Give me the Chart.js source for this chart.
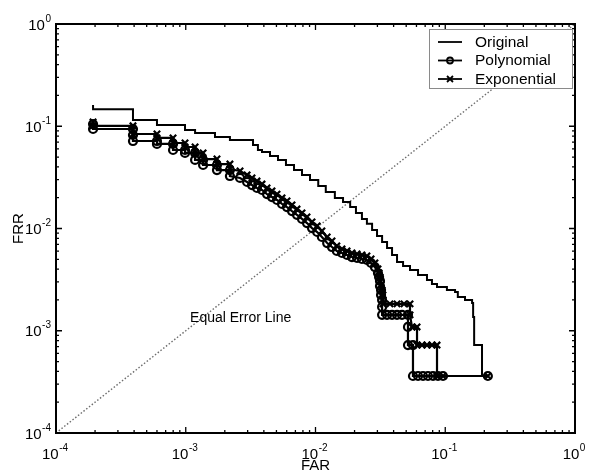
<!DOCTYPE html>
<html>
<head>
<meta charset="utf-8">
<script src="https://cdn.jsdelivr.net/npm/chart.js@4.4.0/dist/chart.umd.min.js"></script>
<style>
  html, body { margin: 0; padding: 0; background: #fff; }
  #wrap { width: 589px; height: 470px; }
</style>
</head>
<body>
<div id="wrap"><canvas id="roc" width="589" height="470"></canvas></div>
<script>
const seriesNames = ['Original', 'Polynomial', 'Exponential'];

// FAR / FRR
const origFar = [1.93e-4, 1.93e-4, 3.92e-4, 6.0e-4, 9.87e-4, 1.18e-3, 1.68e-3, 2.19e-3, 3.30e-3, 3.60e-3,
  3.87e-3, 4.46e-3, 5.14e-3, 5.92e-3, 6.83e-3, 7.87e-3, 9.07e-3, 1.05e-2, 1.20e-2, 1.41e-2,
  1.63e-2, 1.85e-2, 2.05e-2, 2.28e-2, 2.49e-2, 2.73e-2, 2.98e-2, 3.26e-2, 3.56e-2, 3.89e-2,
  4.25e-2, 4.73e-2, 5.35e-2, 6.17e-2, 7.23e-2, 7.90e-2, 8.64e-2, 0.103, 0.119, 0.125,
  0.142, 0.161, 0.164, 0.167, 0.192, 0.213];
const origFrr = [0.161, 0.147, 0.115, 0.103, 0.0919, 0.0859, 0.0785, 0.0734, 0.0656, 0.0586,
  0.0560, 0.0512, 0.0468, 0.0418, 0.0373, 0.0334, 0.0298, 0.0260, 0.0228, 0.0199,
  0.0182, 0.0162, 0.0142, 0.0124, 0.0111, 0.00967, 0.00845, 0.00738, 0.00645, 0.00551,
  0.00470, 0.00430, 0.00393, 0.00351, 0.00314, 0.00287, 0.00268, 0.00250, 0.00239, 0.00214,
  0.00200, 0.00187, 0.00136, 7.25e-4, 3.61e-4, 3.61e-4];

const polyFar = [1.93e-4, 1.93e-4, 3.92e-4, 3.92e-4, 3.92e-4, 6.0e-4, 6.0e-4, 7.98e-4, 7.98e-4, 9.87e-4,
  9.87e-4, 1.18e-3, 1.18e-3, 1.36e-3, 1.36e-3, 1.74e-3, 1.74e-3, 2.19e-3, 2.19e-3, 2.62e-3,
  2.97e-3, 3.24e-3, 3.54e-3, 3.87e-3, 4.23e-3, 4.62e-3, 5.05e-3, 5.52e-3, 6.03e-3, 6.59e-3,
  7.20e-3, 7.87e-3, 8.60e-3, 9.40e-3, 1.03e-2, 1.12e-2, 1.23e-2, 1.34e-2, 1.46e-2, 1.60e-2,
  1.75e-2, 1.91e-2, 2.09e-2, 2.28e-2, 2.49e-2, 2.68e-2, 2.87e-2,
  3.03e-2, 3.09e-2, 3.14e-2, 3.14e-2, 3.20e-2, 3.20e-2, 3.26e-2, 3.26e-2, 3.26e-2,
  3.56e-2, 3.89e-2, 4.25e-2, 4.64e-2, 5.16e-2, 5.16e-2, 5.16e-2, 5.64e-2,
  5.64e-2, 6.17e-2, 6.74e-2, 7.36e-2, 8.05e-2, 8.79e-2, 9.61e-2, 0.213];
const polyFrr = [0.105, 0.0940, 0.0940, 0.0821, 0.0717, 0.0717, 0.0671, 0.0671, 0.0586, 0.0586,
  0.0548, 0.0548, 0.0468, 0.0468, 0.0418, 0.0418, 0.0373, 0.0373, 0.0326, 0.0312,
  0.0285, 0.0266, 0.0249, 0.0238, 0.0217, 0.0203, 0.0190, 0.0174, 0.0162, 0.0148,
  0.0136, 0.0124, 0.0113, 0.0101, 0.00924, 0.00826, 0.00721, 0.00659, 0.00603, 0.00576,
  0.00551, 0.00526, 0.00515, 0.00503, 0.00492, 0.00460, 0.00420,
  0.00367, 0.00336, 0.00307, 0.00274, 0.00250, 0.00224, 0.00200, 0.00171, 0.00143,
  0.00143, 0.00143, 0.00143, 0.00143, 0.00143, 0.00109, 7.25e-4, 7.25e-4,
  3.61e-4, 3.61e-4, 3.61e-4, 3.61e-4, 3.61e-4, 3.61e-4, 3.61e-4, 3.61e-4];

const expFar = [1.93e-4, 1.93e-4, 3.92e-4, 3.92e-4, 3.92e-4, 6.0e-4, 6.0e-4, 7.98e-4, 7.98e-4, 9.87e-4,
  9.87e-4, 1.18e-3, 1.18e-3, 1.36e-3, 1.36e-3, 1.74e-3, 1.74e-3, 2.19e-3, 2.19e-3, 2.62e-3,
  2.97e-3, 3.24e-3, 3.54e-3, 3.87e-3, 4.23e-3, 4.62e-3, 5.05e-3, 5.52e-3, 6.03e-3, 6.59e-3,
  7.20e-3, 7.87e-3, 8.60e-3, 9.40e-3, 1.03e-2, 1.12e-2, 1.23e-2, 1.34e-2, 1.46e-2, 1.60e-2,
  1.75e-2, 1.91e-2, 2.09e-2, 2.28e-2, 2.49e-2, 2.68e-2, 2.87e-2,
  3.03e-2, 3.09e-2, 3.14e-2, 3.14e-2, 3.20e-2, 3.26e-2, 3.31e-2, 3.31e-2, 3.31e-2,
  3.75e-2, 4.25e-2, 4.81e-2, 5.35e-2, 5.35e-2, 5.54e-2, 6.06e-2, 6.06e-2,
  6.62e-2, 7.23e-2, 7.90e-2, 8.64e-2, 8.64e-2, 9.61e-2, 0.213];
const expFrr = [0.110, 0.101, 0.101, 0.0919, 0.0840, 0.0840, 0.0768, 0.0768, 0.0686, 0.0686,
  0.0627, 0.0627, 0.0548, 0.0548, 0.0478, 0.0478, 0.0427, 0.0427, 0.0382, 0.0365,
  0.0334, 0.0312, 0.0291, 0.0272, 0.0249, 0.0233, 0.0217, 0.0199, 0.0186, 0.0170,
  0.0155, 0.0142, 0.0130, 0.0116, 0.0106, 0.00945, 0.00826, 0.00755, 0.00674, 0.00630,
  0.00603, 0.00576, 0.00563, 0.00551, 0.00538, 0.00503, 0.00460,
  0.00402, 0.00367, 0.00336, 0.00307, 0.00280, 0.00250, 0.00224, 0.00200, 0.00183,
  0.00183, 0.00183, 0.00183, 0.00183, 0.00143, 0.00109, 0.00109, 7.25e-4,
  7.25e-4, 7.25e-4, 7.25e-4, 7.25e-4, 3.61e-4, 3.61e-4, 3.61e-4];

// FAR = FRR
const eerFar = [1e-4, 1];
const eerFrr = [1e-4, 1];
const eerText = 'Equal Error Line';
const eerTextAt = { far: 1.08e-3, frr: 1.33e-3 };

const tickValues = [1e-4, 1e-3, 1e-2, 1e-1, 1];
const tickExps = ['-4', '-3', '-2', '-1', '0'];

const FONT = "'Liberation Sans', Arial, Helvetica, sans-serif";

function toPoints(xs, ys) {
  return xs.map((x, i) => ({ x: x, y: ys[i] }));
}

function drawPower(ctx, exp, left, baseline) {
  ctx.font = '15px ' + FONT;
  const w10 = ctx.measureText('10').width;
  ctx.fillText('10', left, baseline);
  ctx.font = '10px ' + FONT;
  ctx.fillText(exp, left + w10 + 0.5, baseline - 8);
}

function powerWidth(ctx, exp) {
  ctx.font = '15px ' + FONT;
  const w10 = ctx.measureText('10').width;
  ctx.font = '10px ' + FONT;
  return w10 + 0.5 + ctx.measureText(exp).width;
}

// matlab style box: border, inward ticks on all sides, 10^n labels
const frame = {
  id: 'frame',
  afterDatasetsDraw(chart) {
    const { ctx, chartArea: a, scales: { x, y } } = chart;
    ctx.save();
    ctx.strokeStyle = '#000';
    ctx.lineWidth = 1.3;
    ctx.beginPath();
    tickValues.forEach((dec) => {
      for (let m = 1; m < 10; m++) {
        const v = dec * m;
        if (v > 1.0001) break;
        const len = m === 1 ? 6 : 3;
        const px = x.getPixelForValue(v);
        const py = y.getPixelForValue(v);
        ctx.moveTo(px, a.bottom); ctx.lineTo(px, a.bottom - len);
        ctx.moveTo(px, a.top); ctx.lineTo(px, a.top + len);
        ctx.moveTo(a.left, py); ctx.lineTo(a.left + len, py);
        ctx.moveTo(a.right, py); ctx.lineTo(a.right - len, py);
      }
    });
    ctx.stroke();
    ctx.lineWidth = 2;
    ctx.strokeRect(a.left, a.top, a.right - a.left, a.bottom - a.top);

    ctx.fillStyle = '#000';
    ctx.textBaseline = 'alphabetic';
    ctx.textAlign = 'left';
    tickValues.forEach((v, i) => {
      const w = powerWidth(ctx, tickExps[i]);
      const px = x.getPixelForValue(v);
      drawPower(ctx, tickExps[i], px - w / 2 - 1, a.bottom + 26);
      const py = y.getPixelForValue(v);
      drawPower(ctx, tickExps[i], 51 - w, py + 5.5);
    });

    ctx.font = '14px ' + FONT;
    ctx.textBaseline = 'middle';
    ctx.fillText(eerText, x.getPixelForValue(eerTextAt.far), y.getPixelForValue(eerTextAt.frr));
    ctx.restore();
  }
};

// boxed legend inside the axes, upper right
const boxLegend = {
  id: 'boxLegend',
  afterDraw(chart) {
    const { ctx, chartArea: a } = chart;
    const bw = 143, bh = 59;
    const bx = a.right - 3 - bw, by = a.top + 5;
    ctx.save();
    ctx.fillStyle = '#fff';
    ctx.fillRect(bx, by, bw, bh);
    ctx.strokeStyle = '#8a8a8a';
    ctx.lineWidth = 1;
    ctx.strokeRect(bx + 0.5, by + 0.5, bw, bh);
    chart.data.datasets.forEach((ds) => {
      if (ds.legendRow === undefined) return;
      const cy = by + 13 + ds.legendRow * 18.5;
      ctx.strokeStyle = '#000';
      ctx.lineWidth = 1.8;
      ctx.beginPath();
      ctx.moveTo(bx + 9, cy);
      ctx.lineTo(bx + 33, cy);
      ctx.stroke();
      const mx = bx + 21;
      ctx.lineWidth = 1.8;
      if (ds.pointStyle === 'circle') {
        ctx.beginPath();
        ctx.arc(mx, cy, 3, 0, Math.PI * 2);
        ctx.stroke();
      } else if (ds.pointStyle === 'crossRot') {
        ctx.beginPath();
        ctx.moveTo(mx - 3, cy - 3); ctx.lineTo(mx + 3, cy + 3);
        ctx.moveTo(mx - 3, cy + 3); ctx.lineTo(mx + 3, cy - 3);
        ctx.stroke();
      }
      ctx.fillStyle = '#000';
      ctx.font = '15.5px ' + FONT;
      ctx.textBaseline = 'middle';
      ctx.textAlign = 'left';
      ctx.fillText(ds.label, bx + 46, cy + 0.5);
    });
    ctx.restore();
  }
};

const chartData = {
  datasets: [
    {
      label: seriesNames[0],
      legendRow: 0,
      data: toPoints(origFar, origFrr),
      showLine: true,
      stepped: true,
      borderColor: '#000',
      borderWidth: 2,
      pointRadius: 0,
    },
    {
      label: seriesNames[1],
      legendRow: 1,
      data: toPoints(polyFar, polyFrr),
      showLine: true,
      borderColor: '#000',
      borderWidth: 2.2,
      pointStyle: 'circle',
      pointRadius: 4,
      pointBorderWidth: 2.2,
      pointBorderColor: '#000',
      pointBackgroundColor: 'rgba(0,0,0,0)',
    },
    {
      label: seriesNames[2],
      legendRow: 2,
      data: toPoints(expFar, expFrr),
      showLine: true,
      borderColor: '#000',
      borderWidth: 2.2,
      pointStyle: 'crossRot',
      pointRadius: 4.5,
      pointBorderWidth: 2.2,
      pointBorderColor: '#000',
    },
    {
      label: 'EER',
      data: toPoints(eerFar, eerFrr),
      showLine: true,
      borderColor: '#6e6e6e',
      borderWidth: 1.4,
      borderDash: [1.5, 2],
      pointRadius: 0,
    },
  ],
};

const logAxis = (title, pad) => ({
  type: 'logarithmic',
  min: 1e-4,
  max: 1,
  grid: { display: false },
  border: { display: false },
  ticks: { display: false },
  title: {
    display: true,
    text: title,
    color: '#000',
    font: { family: FONT, size: 15 },
    padding: pad,
  },
});

const xAxis = logAxis('FAR', { top: 0, bottom: -5 });
xAxis.position = 'bottom';
xAxis.afterFit = (s) => { s.height = 37; };
const yAxis = logAxis('FRR', { top: 9.5, bottom: 0 });
yAxis.position = 'left';
yAxis.afterFit = (s) => { s.width = 56; };

new Chart(document.getElementById('roc'), {
  type: 'scatter',
  data: chartData,
  options: {
    responsive: false,
    animation: false,
    devicePixelRatio: 1,
    layout: { padding: { top: 24, right: 14, left: 0, bottom: 0 } },
    scales: { x: xAxis, y: yAxis },
    plugins: {
      legend: { display: false },
      tooltip: { enabled: false },
    },
    events: [],
  },
  plugins: [frame, boxLegend],
});
</script>
</body>
</html>
